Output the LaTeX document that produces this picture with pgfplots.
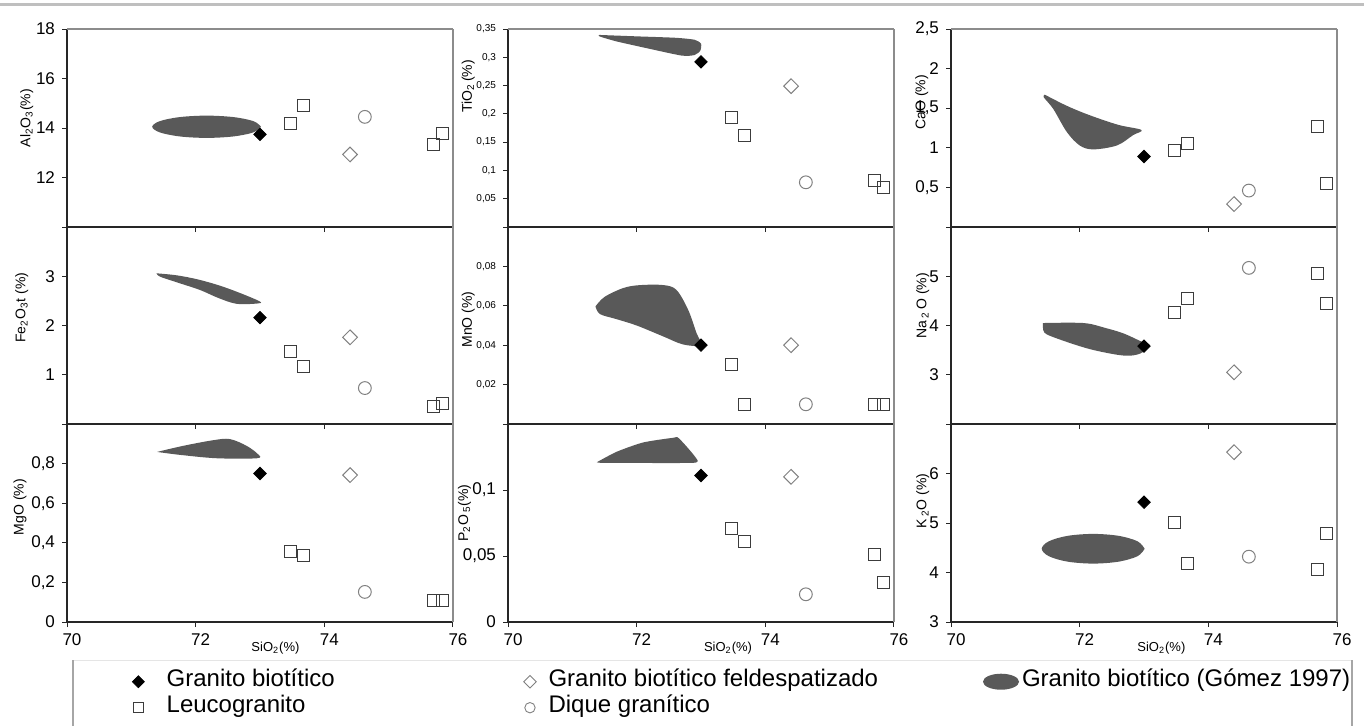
\documentclass[border=0pt]{standalone}
\usepackage{fontspec}
\setmainfont{Liberation Sans}
\usepackage{pgfplots}
\pgfplotsset{compat=1.18}
\definecolor{areagray}{HTML}{595959}
\definecolor{sqc}{HTML}{3C3C3C}
\definecolor{opc}{HTML}{808080}
\tikzset{
  gb/.style={only marks, mark=square*, mark size=2.2pt, mark options={rotate=45, fill=black, draw=black}},
  gbf/.style={only marks, mark=square, mark size=2.6pt, mark options={rotate=45, draw=opc, line width=0.5pt}},
  leu/.style={only marks, mark=square, mark size=3pt, mark options={draw=sqc, line width=0.5pt}},
  diq/.style={only marks, mark=o, mark size=3.2pt, mark options={draw=opc, line width=0.5pt}},
  gbL/.style={only marks, mark=square*, mark size=2.1pt, mark options={rotate=45, fill=black, draw=black}},
  gbfL/.style={only marks, mark=square, mark size=2.2pt, mark options={rotate=45, draw=opc, line width=0.45pt}},
  leuL/.style={only marks, mark=square, mark size=2.4pt, mark options={draw=sqc, line width=0.45pt}},
  diqL/.style={only marks, mark=o, mark size=2.6pt, mark options={draw=opc, line width=0.45pt}},
  edge/.style={black!45, line width=0.6pt},
}
\pgfplotsset{
  panel/.style={scale only axis, width=193pt, height=99pt, xmin=70, xmax=76,
    xtick={70,72,74,76}, xticklabels={}, axis x line*=bottom, axis y line*=left,
    axis line style={-, black!85, line width=0.6pt}, tick style={black!85, line width=0.5pt},
    major tick length=2.5pt, tick align=outside, clip=false, anchor=south west,
    yticklabel style={font=\fontsize{8.5}{10}\selectfont}},
  ylab/.style 2 args={every axis y label/.style={at={(axis description cs:#1,#2)}, rotate=90, anchor=center, font=\fontsize{7}{8}\selectfont}},
  xlab/.style={every axis x label/.style={at={(axis description cs:#1,0)}, anchor=north, yshift=-6.3pt, font=\fontsize{6.5}{7}\selectfont}},
  bottomrow/.style={xticklabels={70,72,74,76}, xticklabel style={font=\fontsize{8.5}{10}\selectfont, xshift=2.5pt}, xlabel={SiO\textsubscript{2}(\%)}},
  area/.style={fill=areagray, draw=none, smooth, tension=0.55, mark=none},
  tiny/.style={yticklabel style={font=\fontsize{5}{6}\selectfont}},
  legsty/.style={legend style={draw=none, fill=none, inner sep=0pt, outer sep=0pt, anchor=north west,
    font=\fontsize{12}{14}\selectfont, nodes={inner sep=0pt, text height=9pt, text depth=4pt},
    column sep=#1, row sep=0pt, cells={anchor=west}},
    legend image code/.code={\path[draw=none, fill=none] (-5pt,-4pt) rectangle (5pt,4pt); \draw[##1] plot coordinates {(0pt,0pt)};}},
}
\begin{document}
\begin{tikzpicture}
\useasboundingbox (0pt,0pt) rectangle (682pt,362.5pt);
\draw[black!25, line width=1.5pt] (0pt,360.3pt) -- (682pt,360.3pt);
\draw[black!10, line width=0.5pt] (36.5pt,32.5pt) -- (676pt,32.5pt);
\draw[black!35, line width=0.6pt] (36.5pt,-1pt) -- (36.5pt,32.5pt);
\draw[black!35, line width=0.6pt] (676pt,-1pt) -- (676pt,32.5pt);

% ---------------- Row 1 ----------------
\begin{axis}[panel, at={(33.5pt,249pt)}, ymin=10, ymax=18, ytick={10,12,14,16,18}, yticklabels={,12,14,16,18},
  ylabel={Al\textsubscript{2}O\textsubscript{3}(\%)}, ylab={-0.104}{0.55}]
\addplot[area] coordinates {(73.015,14.05)(72.90,14.275)(72.59,14.44)(72.17,14.50)(71.75,14.44)(71.44,14.275)(71.325,14.05)(71.44,13.825)(71.75,13.66)(72.17,13.60)(72.59,13.66)(72.90,13.825)(73.015,14.05)};
\addplot[gb] coordinates {(73.0,13.74)};
\addplot[gbf] coordinates {(74.4,12.93)};
\addplot[leu] coordinates {(73.47,14.17)(73.67,14.89)(75.7,13.34)(75.83,13.78)};
\addplot[diq] coordinates {(74.63,14.45)};
\draw[edge] (rel axis cs:1,0) -- (rel axis cs:1,1);
\draw[edge] (rel axis cs:0,1) -- (rel axis cs:1,1);
\end{axis}

\begin{axis}[panel, tiny, at={(254pt,249pt)}, ymin=0, ymax=0.35, ytick={0,0.05,0.1,0.15,0.2,0.25,0.3,0.35},
  yticklabels={,{0,05},{0,1},{0,15},{0,2},{0,25},{0,3},{0,35}},
  ylabel={TiO\textsubscript{2}\,(\%)}, ylab={-0.103}{0.71}]
\addplot[area, tension=0.4] coordinates {(71.42,0.3395)(72.0,0.337)(72.6,0.3345)(72.9,0.331)(73.0,0.324)(72.99,0.312)(72.9,0.304)(72.7,0.303)(72.2,0.315)(71.69,0.328)(71.42,0.337)(71.42,0.3395)};
\addplot[gb] coordinates {(73.0,0.292)};
\addplot[gbf] coordinates {(74.4,0.249)};
\addplot[leu] coordinates {(73.47,0.193)(73.67,0.161)(75.7,0.082)(75.83,0.070)};
\addplot[diq] coordinates {(74.63,0.079)};
\draw[edge] (rel axis cs:1,0) -- (rel axis cs:1,1);
\draw[edge] (rel axis cs:0,1) -- (rel axis cs:1,1);
\end{axis}

\begin{axis}[panel, at={(475.5pt,249pt)}, ymin=0, ymax=2.5, ytick={0,0.5,1,1.5,2,2.5},
  yticklabels={,{0,5},1,{1,5},2,{2,5}},
  ylabel={CaO (\%)}, ylab={-0.076}{0.63}]
\addplot[area] coordinates {(71.46,1.67)(71.8,1.53)(72.16,1.41)(72.6,1.29)(72.96,1.225)(72.83,1.16)(72.58,1.03)(72.21,0.98)(72.0,1.03)(71.8,1.2)(71.59,1.49)(71.44,1.64)(71.46,1.67)};
\addplot[gb] coordinates {(73.0,0.89)};
\addplot[gbf] coordinates {(74.4,0.29)};
\addplot[leu] coordinates {(73.47,0.97)(73.67,1.06)(75.7,1.275)(75.83,0.543)};
\addplot[diq] coordinates {(74.63,0.46)};
\draw[edge] (rel axis cs:1,0) -- (rel axis cs:1,1);
\draw[edge] (rel axis cs:0,1) -- (rel axis cs:1,1);
\end{axis}

% ---------------- Row 2 ----------------
\begin{axis}[panel, height=98.5pt, at={(33.5pt,150.5pt)}, ymin=0, ymax=4, ytick={0,1,2,3,4}, yticklabels={,1,2,3,},
  ylabel={Fe\textsubscript{2}O\textsubscript{3}t (\%)}, ylab={-0.117}{0.59}]
\addplot[area] coordinates {(71.39,3.06)(71.7,3.02)(72.02,2.94)(72.35,2.82)(72.65,2.68)(72.98,2.50)(72.98,2.45)(72.64,2.44)(72.35,2.56)(72.07,2.72)(71.7,2.88)(71.45,2.99)(71.39,3.06)};
\addplot[gb] coordinates {(73.0,2.16)};
\addplot[gbf] coordinates {(74.4,1.76)};
\addplot[leu] coordinates {(73.47,1.47)(73.67,1.16)(75.7,0.36)(75.83,0.42)};
\addplot[diq] coordinates {(74.63,0.73)};
\draw[edge] (rel axis cs:1,0) -- (rel axis cs:1,1);
\end{axis}

\begin{axis}[panel, tiny, height=98.5pt, at={(254pt,150.5pt)}, ymin=0, ymax=0.1, ytick={0,0.02,0.04,0.06,0.08,0.1},
  yticklabels={,{0,02},{0,04},{0,06},{0,08},},
  ylabel={MnO (\%)}, ylab={-0.103}{0.53}]
\addplot[area] coordinates {(71.36,0.0597)(71.5,0.0645)(71.79,0.0690)(72.05,0.0705)(72.42,0.0705)(72.62,0.068)(72.80,0.058)(72.93,0.0462)(73.0,0.040)(72.72,0.0404)(72.41,0.0445)(72.0,0.050)(71.69,0.0532)(71.43,0.0558)(71.36,0.0597)};
\addplot[gb] coordinates {(73.0,0.04)};
\addplot[gbf] coordinates {(74.4,0.04)};
\addplot[leu] coordinates {(73.47,0.03)(73.67,0.01)(75.7,0.01)(75.83,0.01)};
\addplot[diq] coordinates {(74.63,0.01)};
\draw[edge] (rel axis cs:1,0) -- (rel axis cs:1,1);
\end{axis}

\begin{axis}[panel, height=98.5pt, at={(475.5pt,150.5pt)}, ymin=2, ymax=6, ytick={2,3,4,5,6}, yticklabels={,3,4,5,},
  ylabel={Na\,\textsubscript{2}\,O (\%)}, ylab={-0.073}{0.60}]
\addplot[area] coordinates {(71.43,4.05)(72.06,4.05)(72.4,3.95)(72.68,3.84)(72.95,3.68)(73.09,3.6)(72.94,3.43)(72.68,3.39)(72.16,3.52)(71.64,3.74)(71.45,3.86)(71.43,4.05)};
\addplot[gb] coordinates {(73.0,3.58)};
\addplot[gbf] coordinates {(74.4,3.05)};
\addplot[leu] coordinates {(73.47,4.26)(73.67,4.55)(75.7,5.05)(75.83,4.44)};
\addplot[diq] coordinates {(74.63,5.17)};
\draw[edge] (rel axis cs:1,0) -- (rel axis cs:1,1);
\end{axis}

% ---------------- Row 3 ----------------
\begin{axis}[panel, bottomrow, xlab=0.54, legsty=9.2pt, at={(33.5pt,51.5pt)}, ymin=0, ymax=1, ytick={0,0.2,0.4,0.6,0.8,1},
  yticklabels={0,{0,2},{0,4},{0,6},{0,8},},
  ylabel={MgO (\%)}, ylab={-0.122}{0.58},
  legend style={at={(axis description cs:0.1588,-0.2359)}}]
\addlegendimage{gbL}\addlegendentry{Granito biotítico}
\addlegendimage{leuL}\addlegendentry{Leucogranito}
\addplot[area] coordinates {(71.40,0.859)(71.81,0.89)(72.27,0.918)(72.53,0.924)(72.79,0.89)(72.97,0.847)(72.95,0.827)(72.33,0.827)(71.76,0.844)(71.40,0.859)};
\addplot[gb] coordinates {(73.0,0.75)};
\addplot[gbf] coordinates {(74.4,0.742)};
\addplot[leu] coordinates {(73.47,0.354)(73.67,0.337)(75.7,0.11)(75.83,0.11)};
\addplot[diq] coordinates {(74.63,0.152)};
\draw[edge] (rel axis cs:1,0) -- (rel axis cs:1,1);
\end{axis}

\begin{axis}[panel, bottomrow, xlab=0.57, legsty=4.3pt, at={(254pt,51.5pt)}, ymin=0, ymax=0.15, ytick={0,0.05,0.1,0.15},
  yticklabels={0,{0,05},{0,1},},
  ylabel={P\textsubscript{2}O\,\textsubscript{5}(\%)}, ylab={-0.113}{0.55},
  legend style={at={(axis description cs:0.031,-0.2359)}}]
\addlegendimage{gbfL}\addlegendentry{Granito biotítico feldespatizado}
\addlegendimage{diqL}\addlegendentry{Dique granítico}
\addplot[area, tension=0.4] coordinates {(71.38,0.121)(71.69,0.129)(72.1,0.136)(72.56,0.1395)(72.66,0.139)(72.95,0.122)(72.72,0.1205)(72.0,0.1205)(71.48,0.1205)(71.38,0.121)};
\addplot[gb] coordinates {(73.0,0.111)};
\addplot[gbf] coordinates {(74.4,0.110)};
\addplot[leu] coordinates {(73.47,0.071)(73.67,0.061)(75.7,0.051)(75.83,0.030)};
\addplot[diq] coordinates {(74.63,0.021)};
\draw[edge] (rel axis cs:1,0) -- (rel axis cs:1,1);
\end{axis}

\begin{axis}[panel, bottomrow, xlab=0.545, legsty=1.5pt, at={(475.5pt,51.5pt)}, ymin=3, ymax=7, ytick={3,4,5,6,7},
  yticklabels={3,4,5,6,},
  ylabel={K\,\textsubscript{2}O (\%)}, ylab={-0.073}{0.61},
  legend style={at={(axis description cs:0.0829,-0.2359)}},
  legend image code/.code={\path[draw=none, fill=none] (-9pt,-4pt) rectangle (9pt,4pt); \fill[areagray] (0pt,0pt) ellipse [x radius=9pt, y radius=4pt];}]
\addlegendimage{draw=none}\addlegendentry{Granito biotítico (Gómez 1997)}
\addplot[area] coordinates {(73.01,4.48)(72.90,4.63)(72.61,4.74)(72.21,4.78)(71.81,4.74)(71.52,4.63)(71.41,4.48)(71.52,4.33)(71.81,4.22)(72.21,4.18)(72.61,4.22)(72.90,4.33)(73.01,4.48)};
\addplot[gb] coordinates {(73.0,5.42)};
\addplot[gbf] coordinates {(74.4,6.43)};
\addplot[leu] coordinates {(73.47,5.01)(73.67,4.18)(75.7,4.06)(75.83,4.78)};
\addplot[diq] coordinates {(74.63,4.32)};
\draw[edge] (rel axis cs:1,0) -- (rel axis cs:1,1);
\end{axis}
\end{tikzpicture}
\end{document}
